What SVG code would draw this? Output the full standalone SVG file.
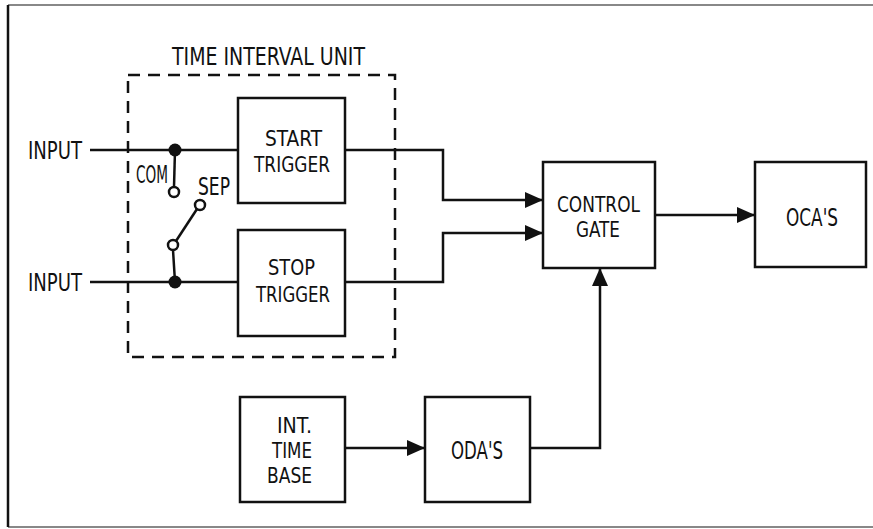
<svg xmlns="http://www.w3.org/2000/svg" width="873" height="529" viewBox="0 0 873 529">
<style>
.box{fill:#fff;stroke:#111;stroke-width:2.5}
.ln{fill:none;stroke:#111;stroke-width:2.5}
.t{font-family:"DejaVu Sans Condensed","Liberation Sans Narrow","Liberation Sans",sans-serif;font-size:25px;fill:#111}
.s{font-size:22px}
.frame{stroke:#888;stroke-width:2;fill:none}
</style>
<defs>
<marker id="ah" markerUnits="userSpaceOnUse" markerWidth="20" markerHeight="16" refX="18" refY="8" orient="auto">
<path d="M0,0 L18,8 L0,16 z" fill="#111"/>
</marker>
</defs>
<rect width="873" height="529" fill="#fff"/>
<g id="frame">
<line class="frame" x1="8" y1="5" x2="873" y2="5"/>
<line class="frame" x1="8" y1="527" x2="873" y2="527"/>
<line x1="8" y1="5" x2="8" y2="527" stroke="#111" stroke-width="2.5"/>
</g>
<g id="time-interval-unit">
<rect x="128" y="75" width="267" height="282" fill="none" stroke="#111" stroke-width="2.5" stroke-dasharray="12 8"/>
<text class="t" x="172" y="65" textLength="193" lengthAdjust="spacingAndGlyphs">TIME INTERVAL UNIT</text>
</g>
<g id="connectors">
<line class="ln" x1="90" y1="150" x2="238" y2="150"/>
<line class="ln" x1="90" y1="282" x2="238" y2="282"/>
<line class="ln" x1="175" y1="150" x2="174" y2="187"/>
<line class="ln" x1="197" y1="209" x2="176" y2="241"/>
<line class="ln" x1="173" y1="250" x2="175" y2="282"/>
<polyline class="ln" points="345,150 443,150 443,200 543,200" marker-end="url(#ah)"/>
<polyline class="ln" points="345,282 443,282 443,233 543,233" marker-end="url(#ah)"/>
<line class="ln" x1="655" y1="215" x2="755" y2="215" marker-end="url(#ah)"/>
<line class="ln" x1="345" y1="448" x2="425" y2="448" marker-end="url(#ah)"/>
<polyline class="ln" points="530,448 600,448 600,268" marker-end="url(#ah)"/>
</g>
<g id="input-1">
<text class="t" x="28" y="159" textLength="54" lengthAdjust="spacingAndGlyphs">INPUT</text>
</g>
<g id="input-2">
<text class="t" x="28" y="291" textLength="54" lengthAdjust="spacingAndGlyphs">INPUT</text>
</g>
<g id="switch">
<circle cx="175" cy="150" r="6.5" fill="#111"/>
<circle cx="175" cy="282" r="6.5" fill="#111"/>
<circle cx="174" cy="192" r="5" fill="#fff" stroke="#111" stroke-width="2.5"/>
<circle cx="200" cy="205" r="5" fill="#fff" stroke="#111" stroke-width="2.5"/>
<circle cx="173" cy="245" r="5" fill="#fff" stroke="#111" stroke-width="2.5"/>
<text class="t" x="136" y="183" font-size="23" textLength="32" lengthAdjust="spacingAndGlyphs">COM</text>
<text class="t" x="198" y="195" font-size="23" textLength="32" lengthAdjust="spacingAndGlyphs">SEP</text>
</g>
<g id="start-trigger">
<rect class="box" x="238" y="98" width="107" height="105"/>
<text class="t s" x="265" y="146" textLength="57" lengthAdjust="spacingAndGlyphs">START</text>
<text class="t s" x="254" y="172" textLength="76" lengthAdjust="spacingAndGlyphs">TRIGGER</text>
</g>
<g id="stop-trigger">
<rect class="box" x="238" y="230" width="107" height="106"/>
<text class="t s" x="268" y="275" textLength="47" lengthAdjust="spacingAndGlyphs">STOP</text>
<text class="t s" x="256" y="302" textLength="74" lengthAdjust="spacingAndGlyphs">TRIGGER</text>
</g>
<g id="control-gate">
<rect class="box" x="543" y="162" width="112" height="106"/>
<text class="t s" x="557" y="212" textLength="83" lengthAdjust="spacingAndGlyphs">CONTROL</text>
<text class="t s" x="576" y="237" textLength="44" lengthAdjust="spacingAndGlyphs">GATE</text>
</g>
<g id="ocas">
<rect class="box" x="755" y="162" width="111" height="105"/>
<text class="t" x="786" y="226" textLength="52" lengthAdjust="spacingAndGlyphs">OCA'S</text>
</g>
<g id="int-time-base">
<rect class="box" x="240" y="397" width="105" height="105"/>
<text class="t s" x="277" y="433" textLength="35" lengthAdjust="spacingAndGlyphs">INT.</text>
<text class="t s" x="272" y="458" textLength="40" lengthAdjust="spacingAndGlyphs">TIME</text>
<text class="t s" x="267" y="483" textLength="45" lengthAdjust="spacingAndGlyphs">BASE</text>
</g>
<g id="odas">
<rect class="box" x="425" y="397" width="105" height="105"/>
<text class="t" x="451" y="459" textLength="52" lengthAdjust="spacingAndGlyphs">ODA'S</text>
</g>
</svg>
